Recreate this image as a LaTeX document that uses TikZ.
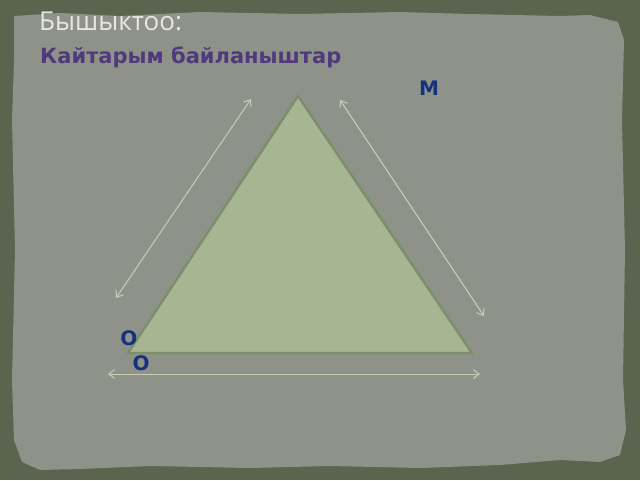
\documentclass[tikz,border=0pt]{standalone}
\usepackage{fontspec}
\setmainfont{DejaVu Sans}
\newfontfamily\titlefont{Open Sans}
\usetikzlibrary{arrows.meta}
\definecolor{outerbg}{RGB}{90,100,78}
\definecolor{paper}{RGB}{143,146,137}
\definecolor{trifill}{RGB}{166,181,146}
\definecolor{tristroke}{RGB}{125,142,108}
\definecolor{arrowcol}{RGB}{200,206,178}
\definecolor{titlecol}{RGB}{232,232,226}
\definecolor{subcol}{RGB}{80,58,125}
\definecolor{lblcol}{RGB}{22,48,125}
\tikzset{
  dblarrow/.style={draw=arrowcol, line width=1pt, {Straight Barb[length=6pt,width=9pt]}-{Straight Barb[length=6pt,width=9pt]}},
  lbl/.style={text=lblcol, font=\bfseries\fontsize{20}{20}\selectfont, inner sep=0pt},
}
\begin{document}
\begin{tikzpicture}[x=1pt,y=-1pt]
\useasboundingbox (0,0) rectangle (640,480);
\fill[outerbg] (0,0) rectangle (640,480);
% torn paper
\fill[paper] (14,16) -- (60,13) -- (120,16) -- (200,12) -- (300,14) -- (400,12) -- (470,14) -- (560,16) -- (590,15) -- (618,22) -- (624,40) -- (622,120) -- (625,250) -- (623,380) -- (626,430) -- (620,455) -- (600,462) -- (560,460) -- (500,465) -- (420,468) -- (330,466) -- (250,468) -- (150,466) -- (80,469) -- (40,470) -- (22,462) -- (14,440) -- (12,380) -- (15,250) -- (12,120) -- (14,60) -- cycle;
% title texts
\node[anchor=base west, text=titlecol, inner sep=0pt, font=\titlefont\fontsize{26}{26}\selectfont] (title) at (39,30) {Бышыктоо:};
\node[anchor=base west, text=subcol, inner sep=0pt, font=\bfseries\fontsize{21}{21}\selectfont] (sub) at (40,63) {Кайтарым байланыштар};
% triangle
\coordinate (A) at (298,96);
\coordinate (B) at (128,353);
\coordinate (C) at (472,353);
\fill[trifill, draw=tristroke, line width=2.5pt, line join=round] (A) -- (B) -- (C) -- cycle;
% arrows
\coordinate (l1) at (116,298);
\coordinate (l2) at (251,99);
\coordinate (r1) at (340,100);
\coordinate (r2) at (484,316);
\coordinate (b1) at (108,374);
\coordinate (b2) at (480,374);
\draw[dblarrow] (l1) -- (l2);
\draw[dblarrow] (r1) -- (r2);
\draw[dblarrow] (b1) -- (b2);
% labels
\node[lbl] (m) at (429,88) {M};
\node[lbl] (o1) at (129,338) {O};
\node[lbl] (o2) at (141,363) {O};
\end{tikzpicture}
\end{document}
